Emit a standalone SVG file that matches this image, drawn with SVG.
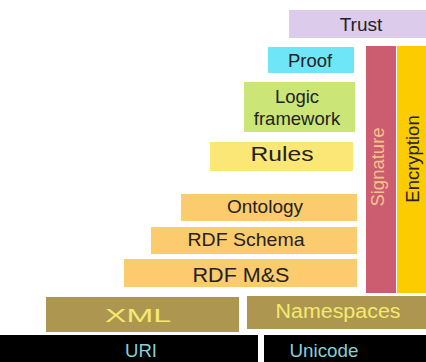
<svg xmlns="http://www.w3.org/2000/svg" width="426" height="362" viewBox="0 0 426 362">
<style>
text{font-family:"Liberation Sans",Arial,sans-serif;text-anchor:middle;fill:#222}
.o{fill:#fccb6d}
.ol{fill:#ad9650}
.bk{fill:#000}
.yt{fill:#f4ea70}
.ct{fill:#86d0d8}
</style>
<rect width="426" height="362" fill="#fff"/>
<g id="trust"><rect x="289" y="10" width="137" height="28" fill="#dccbeb"/><text x="361" y="31" font-size="19">Trust</text></g>
<g id="proof"><rect x="268" y="47" width="86" height="26" fill="#6fe6f8"/><text x="310" y="67" font-size="18.5">Proof</text></g>
<g id="logic"><rect x="244" y="82" width="111" height="50" fill="#cbe676"/><text x="297" y="103" font-size="18.5">Logic</text><text x="297" y="125" font-size="18.5">framework</text></g>
<g id="rules"><rect x="210" y="142" width="143" height="29" fill="#fbe775"/><text x="282" y="161" font-size="21" textLength="63" lengthAdjust="spacingAndGlyphs">Rules</text></g>
<g id="signature"><rect x="366" y="46" width="30" height="247" fill="#cc5c6f"/><text transform="translate(384,167) rotate(-90)" font-size="18.5" style="fill:#f6c48a">Signature</text></g>
<g id="encryption"><rect x="397" y="46" width="29" height="247" fill="#fccc00"/><text transform="translate(419,159) rotate(-90)" font-size="18.5">Encryption</text></g>
<g id="ontology"><rect class="o" x="181" y="194" width="176" height="27"/><text x="265" y="213" font-size="19">Ontology</text></g>
<g id="rdfschema"><rect class="o" x="151" y="227" width="206" height="27"/><text x="246" y="246" font-size="19" textLength="117" lengthAdjust="spacingAndGlyphs">RDF Schema</text></g>
<g id="rdfms"><rect class="o" x="124" y="259" width="233" height="28"/><text x="241" y="282" font-size="20" textLength="97" lengthAdjust="spacingAndGlyphs">RDF M&amp;S</text></g>
<g id="xml"><rect class="ol" x="46" y="297" width="193" height="35"/><text class="yt" x="138" y="322" font-size="19" textLength="66" lengthAdjust="spacingAndGlyphs">XML</text></g>
<g id="namespaces"><rect class="ol" x="247" y="296" width="179" height="33"/><text class="yt" x="338" y="318" font-size="20" textLength="125" lengthAdjust="spacingAndGlyphs">Namespaces</text></g>
<g id="uri"><rect class="bk" x="0" y="335" width="258" height="27"/><text class="ct" x="141" y="357" font-size="19" textLength="32" lengthAdjust="spacingAndGlyphs">URI</text></g>
<g id="unicode"><rect class="bk" x="264" y="335" width="162" height="27"/><text class="ct" x="324" y="357" font-size="19" textLength="69" lengthAdjust="spacingAndGlyphs">Unicode</text></g>
<g id="connectors"></g>
</svg>
